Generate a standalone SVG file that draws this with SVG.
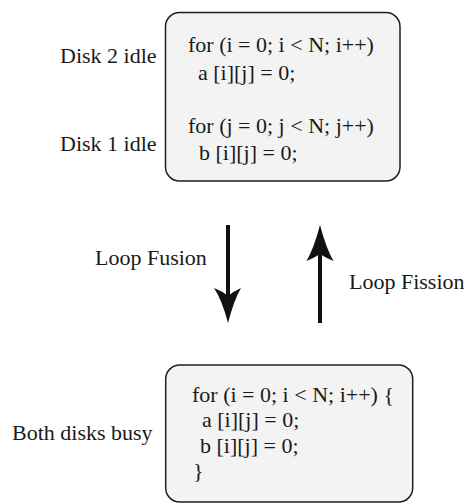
<svg xmlns="http://www.w3.org/2000/svg" width="464" height="503" viewBox="0 0 464 503">
  <style>
    .box { fill: #f3f3f3; stroke: #1f1f1f; stroke-width: 1.5; }
    text { font-family: "Liberation Serif", "Times New Roman", serif; font-size: 22px; fill: #1a1a1a; }
    .shaft { stroke: #111; stroke-width: 4; fill: none; }
    .head { fill: #111; stroke: none; }
  </style>
  <rect width="464" height="503" fill="#ffffff"/>

  <!-- split loops -->
  <g id="split-loops">
    <rect class="box" x="165.5" y="12.5" width="234.5" height="168.5" rx="14"/>
    <text x="188" y="52">for (i = 0; i &lt; N; i++)</text>
    <text x="198" y="80">a [i][j] = 0;</text>
    <text x="188" y="133">for (j = 0; j &lt; N; j++)</text>
    <text x="199" y="160">b [i][j] = 0;</text>
  </g>
  <g id="label-disk2">
    <text x="60" y="63">Disk 2 idle</text>
  </g>
  <g id="label-disk1">
    <text x="60" y="151">Disk 1 idle</text>
  </g>

  <!-- fused loop -->
  <g id="fused-loop">
    <rect class="box" x="165.7" y="365" width="247" height="137" rx="14"/>
    <text x="192" y="402">for (i = 0; i &lt; N; i++) {</text>
    <text x="202" y="427">a [i][j] = 0;</text>
    <text x="200" y="453">b [i][j] = 0;</text>
    <text x="193" y="478">}</text>
  </g>
  <g id="label-both">
    <text x="12" y="440">Both disks busy</text>
  </g>

  <!-- transformations -->
  <g id="connectors">
    <line class="shaft" x1="228" y1="225" x2="228" y2="296"/>
    <path class="head" d="M228 323 Q222 300 214 288 Q222 291 228 296 Q234 291 241 288 Q234 300 228 323 Z"/>
    <line class="shaft" x1="320" y1="323" x2="320" y2="254"/>
    <path class="head" d="M320 225 Q314 248 306.5 261 Q314 258 320 254 Q326 258 333.5 261 Q326 248 320 225 Z"/>
  </g>
  <g id="label-fusion">
    <text x="95" y="265">Loop Fusion</text>
  </g>
  <g id="label-fission">
    <text x="349" y="289">Loop Fission</text>
  </g>
</svg>
